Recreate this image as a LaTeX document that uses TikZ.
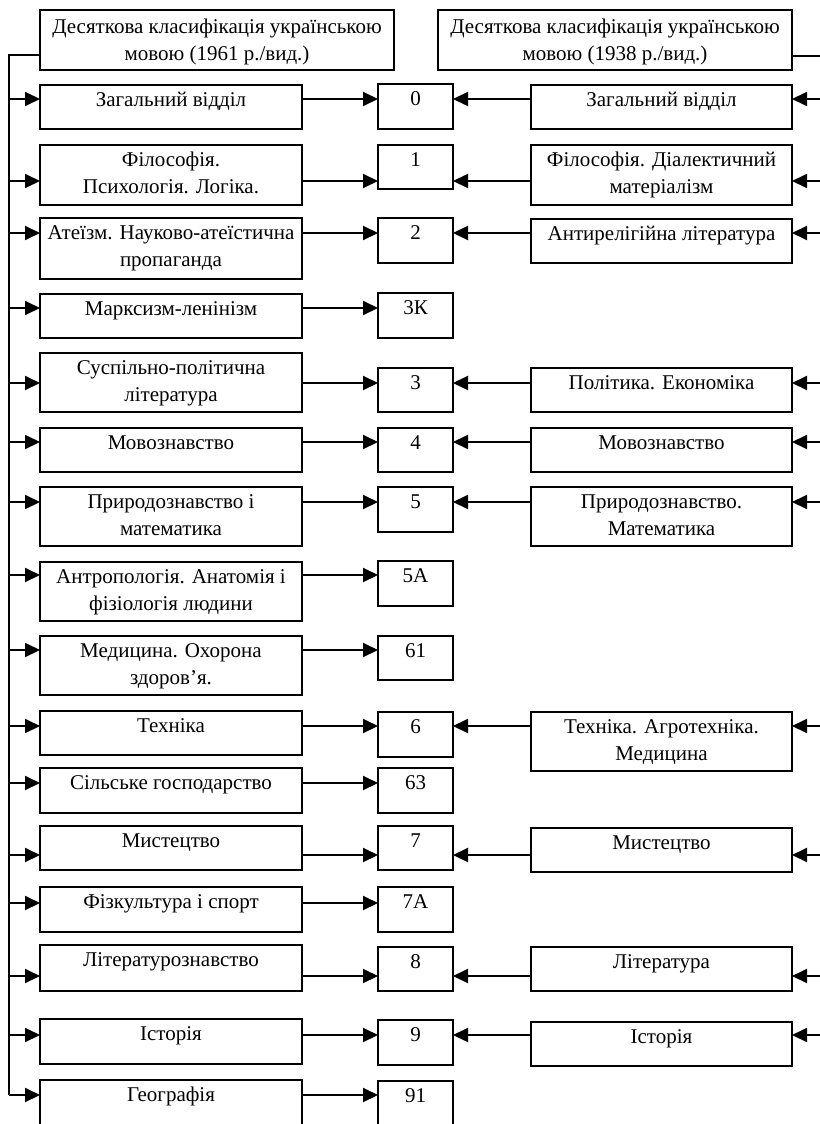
\documentclass[tikz,border=0pt]{standalone}
\usepackage{fontspec}
\setmainfont{Liberation Serif}
\usepackage{tikz}
\usetikzlibrary{arrows.meta}

\begin{document}
\begin{tikzpicture}[x=1pt,y=-1pt]
\tikzstyle{box}=[draw,line width=2pt,anchor=north,outer sep=0pt,inner xsep=1pt,inner ysep=0pt,align=center,text height=21pt,font=\fontsize{21}{27}\selectfont]
\tikzstyle{two}=[text height=48pt]
\tikzstyle{lbox}=[box,minimum width=262pt]
\tikzstyle{nbox}=[box,minimum width=75pt]
\tikzstyle{rbox}=[box,minimum width=261pt]
\tikzstyle{hbox}=[box,two,minimum width=354pt,text height=50pt,text depth=10pt]
\tikzstyle{wire}=[line width=2pt]
\tikzstyle{arr}=[wire,-{Triangle[length=15pt,width=14pt]}]
\useasboundingbox (0,0) rectangle (819,1124);
\coordinate (spL) at (9,0);
\coordinate (spR) at (824,0);
% headers
\node[hbox] (hL) at (217,10) {Десяткова класифікація українською\\мовою (1961 р./вид.)};
\node[hbox] (hR) at (615,10) {Десяткова класифікація українською\\мовою (1938 р./вид.)};
% left column (1961)
\node[lbox,text depth=23pt] (l0) at (171,85) {Загальний відділ};
\node[lbox,two,text depth=12pt] (l1) at (171,145) {Філософія.\\Психологія. Логіка.};
\node[lbox,two,text depth=13pt] (l2) at (171,218) {Атеїзм. Науково-атеїстична\\пропаганда};
\node[lbox,text depth=23pt] (l3) at (171,294) {Марксизм-ленінізм};
\node[lbox,two,text depth=11pt] (l4) at (171,353) {Суспільно-політична\\література};
\node[lbox,text depth=23pt] (l5) at (171,428) {Мовознавство};
\node[lbox,two,text depth=11pt] (l6) at (171,487) {Природознавство і\\математика};
\node[lbox,two,text depth=11pt] (l7) at (171,562) {Антропологія. Анатомія і\\фізіологія людини};
\node[lbox,two,text depth=11pt] (l8) at (171,636) {Медицина. Охорона\\здоров’я.};
\node[lbox,text depth=23pt] (l9) at (171,711) {Техніка};
\node[lbox,text depth=24pt] (l10) at (171,768) {Сільське господарство};
\node[lbox,text depth=23pt] (l11) at (171,826) {Мистецтво};
\node[lbox,text depth=24pt] (l12) at (171,887) {Фізкультура і спорт};
\node[lbox,text depth=25pt] (l13) at (171,945) {Літературознавство};
\node[lbox,text depth=24pt] (l14) at (171,1019) {Історія};
\node[lbox,text depth=26pt] (l15) at (171,1080) {Географія};
% numbers
\node[nbox,text depth=24pt] (n0) at (415.5,84) {0};
\node[nbox,text depth=23pt] (n1) at (415.5,145) {1};
\node[nbox,text depth=24pt] (n2) at (415.5,218) {2};
\node[nbox,text depth=24pt] (n3) at (415.5,293) {3К};
\node[nbox,text depth=23pt] (n4) at (415.5,368) {3};
\node[nbox,text depth=23pt] (n5) at (415.5,428) {4};
\node[nbox,text depth=24pt] (n6) at (415.5,487) {5};
\node[nbox,text depth=24pt] (n7) at (415.5,561) {5А};
\node[nbox,text depth=23pt] (n8) at (415.5,636) {61};
\node[nbox,text depth=24pt] (n9) at (415.5,712) {6};
\node[nbox,text depth=24pt] (n10) at (415.5,768) {63};
\node[nbox,text depth=23pt] (n11) at (415.5,826) {7};
\node[nbox,text depth=24pt] (n12) at (415.5,887) {7А};
\node[nbox,text depth=23pt] (n13) at (415.5,947) {8};
\node[nbox,text depth=24pt] (n14) at (415.5,1020) {9};
\node[nbox,text depth=25pt] (n15) at (415.5,1081) {91};
% right column (1938)
\node[rbox,text depth=23pt] (r0) at (661.5,85) {Загальний відділ};
\node[rbox,two,text depth=12pt] (r1) at (661.5,145) {Філософія. Діалектичний\\матеріалізм};
\node[rbox,text depth=23pt] (r2) at (661.5,219) {Антирелігійна література};
\node[rbox,text depth=23pt] (r4) at (661.5,368) {Політика. Економіка};
\node[rbox,text depth=23pt] (r5) at (661.5,428) {Мовознавство};
\node[rbox,two,text depth=11pt] (r6) at (661.5,487) {Природознавство.\\Математика};
\node[rbox,two,text depth=11pt] (r9) at (661.5,712) {Техніка. Агротехніка.\\Медицина};
\node[rbox,text depth=23pt] (r11) at (661.5,828) {Мистецтво};
\node[rbox,text depth=23pt] (r13) at (661.5,947) {Література};
\node[rbox,text depth=23pt] (r14) at (661.5,1022) {Історія};
% arrow levels
\coordinate (a0) at ([yshift=-15pt]n0.north);
\coordinate (a1) at ([yshift=-36pt]n1.north);
\coordinate (a2) at ([yshift=-15pt]n2.north);
\coordinate (a3) at ([yshift=-15pt]n3.north);
\coordinate (a4) at ([yshift=-15pt]n4.north);
\coordinate (a5) at ([yshift=-14pt]n5.north);
\coordinate (a6) at ([yshift=-15pt]n6.north);
\coordinate (a7) at ([yshift=-14pt]n7.north);
\coordinate (a8) at ([yshift=-14pt]n8.north);
\coordinate (a9) at ([yshift=-14pt]n9.north);
\coordinate (a10) at ([yshift=-15pt]n10.north);
\coordinate (a11) at ([yshift=-29pt]n11.north);
\coordinate (a12) at ([yshift=-16pt]n12.north);
\coordinate (a13) at ([yshift=-29pt]n13.north);
\coordinate (a14) at ([yshift=-15pt]n14.north);
\coordinate (a15) at ([yshift=-14pt]n15.north);
% spines
\draw[wire] ([yshift=-45pt]hL.north west) -- ([yshift=-45pt]hL.north west -| spL) -- (spL |- a15);
\draw[wire] ([yshift=-46pt]hR.north east) -- ([yshift=-46pt]hR.north east -| spR) -- (spR |- a14);
% left arrows
\draw[arr] (spL |- a0) -- (l0.west |- a0);
\draw[arr] (l0.east |- a0) -- (n0.west |- a0);
\draw[arr] (spL |- a1) -- (l1.west |- a1);
\draw[arr] (l1.east |- a1) -- (n1.west |- a1);
\draw[arr] (spL |- a2) -- (l2.west |- a2);
\draw[arr] (l2.east |- a2) -- (n2.west |- a2);
\draw[arr] (spL |- a3) -- (l3.west |- a3);
\draw[arr] (l3.east |- a3) -- (n3.west |- a3);
\draw[arr] (spL |- a4) -- (l4.west |- a4);
\draw[arr] (l4.east |- a4) -- (n4.west |- a4);
\draw[arr] (spL |- a5) -- (l5.west |- a5);
\draw[arr] (l5.east |- a5) -- (n5.west |- a5);
\draw[arr] (spL |- a6) -- (l6.west |- a6);
\draw[arr] (l6.east |- a6) -- (n6.west |- a6);
\draw[arr] (spL |- a7) -- (l7.west |- a7);
\draw[arr] (l7.east |- a7) -- (n7.west |- a7);
\draw[arr] (spL |- a8) -- (l8.west |- a8);
\draw[arr] (l8.east |- a8) -- (n8.west |- a8);
\draw[arr] (spL |- a9) -- (l9.west |- a9);
\draw[arr] (l9.east |- a9) -- (n9.west |- a9);
\draw[arr] (spL |- a10) -- (l10.west |- a10);
\draw[arr] (l10.east |- a10) -- (n10.west |- a10);
\draw[arr] (spL |- a11) -- (l11.west |- a11);
\draw[arr] (l11.east |- a11) -- (n11.west |- a11);
\draw[arr] (spL |- a12) -- (l12.west |- a12);
\draw[arr] (l12.east |- a12) -- (n12.west |- a12);
\draw[arr] (spL |- a13) -- (l13.west |- a13);
\draw[arr] (l13.east |- a13) -- (n13.west |- a13);
\draw[arr] (spL |- a14) -- (l14.west |- a14);
\draw[arr] (l14.east |- a14) -- (n14.west |- a14);
\draw[arr] (spL |- a15) -- (l15.west |- a15);
\draw[arr] (l15.east |- a15) -- (n15.west |- a15);
% right arrows
\draw[arr] (spR |- a0) -- (r0.east |- a0);
\draw[arr] (r0.west |- a0) -- (n0.east |- a0);
\draw[arr] (spR |- a1) -- (r1.east |- a1);
\draw[arr] (r1.west |- a1) -- (n1.east |- a1);
\draw[arr] (spR |- a2) -- (r2.east |- a2);
\draw[arr] (r2.west |- a2) -- (n2.east |- a2);
\draw[arr] (spR |- a4) -- (r4.east |- a4);
\draw[arr] (r4.west |- a4) -- (n4.east |- a4);
\draw[arr] (spR |- a5) -- (r5.east |- a5);
\draw[arr] (r5.west |- a5) -- (n5.east |- a5);
\draw[arr] (spR |- a6) -- (r6.east |- a6);
\draw[arr] (r6.west |- a6) -- (n6.east |- a6);
\draw[arr] (spR |- a9) -- (r9.east |- a9);
\draw[arr] (r9.west |- a9) -- (n9.east |- a9);
\draw[arr] (spR |- a11) -- (r11.east |- a11);
\draw[arr] (r11.west |- a11) -- (n11.east |- a11);
\draw[arr] (spR |- a13) -- (r13.east |- a13);
\draw[arr] (r13.west |- a13) -- (n13.east |- a13);
\draw[arr] (spR |- a14) -- (r14.east |- a14);
\draw[arr] (r14.west |- a14) -- (n14.east |- a14);
\end{tikzpicture}
\end{document}
